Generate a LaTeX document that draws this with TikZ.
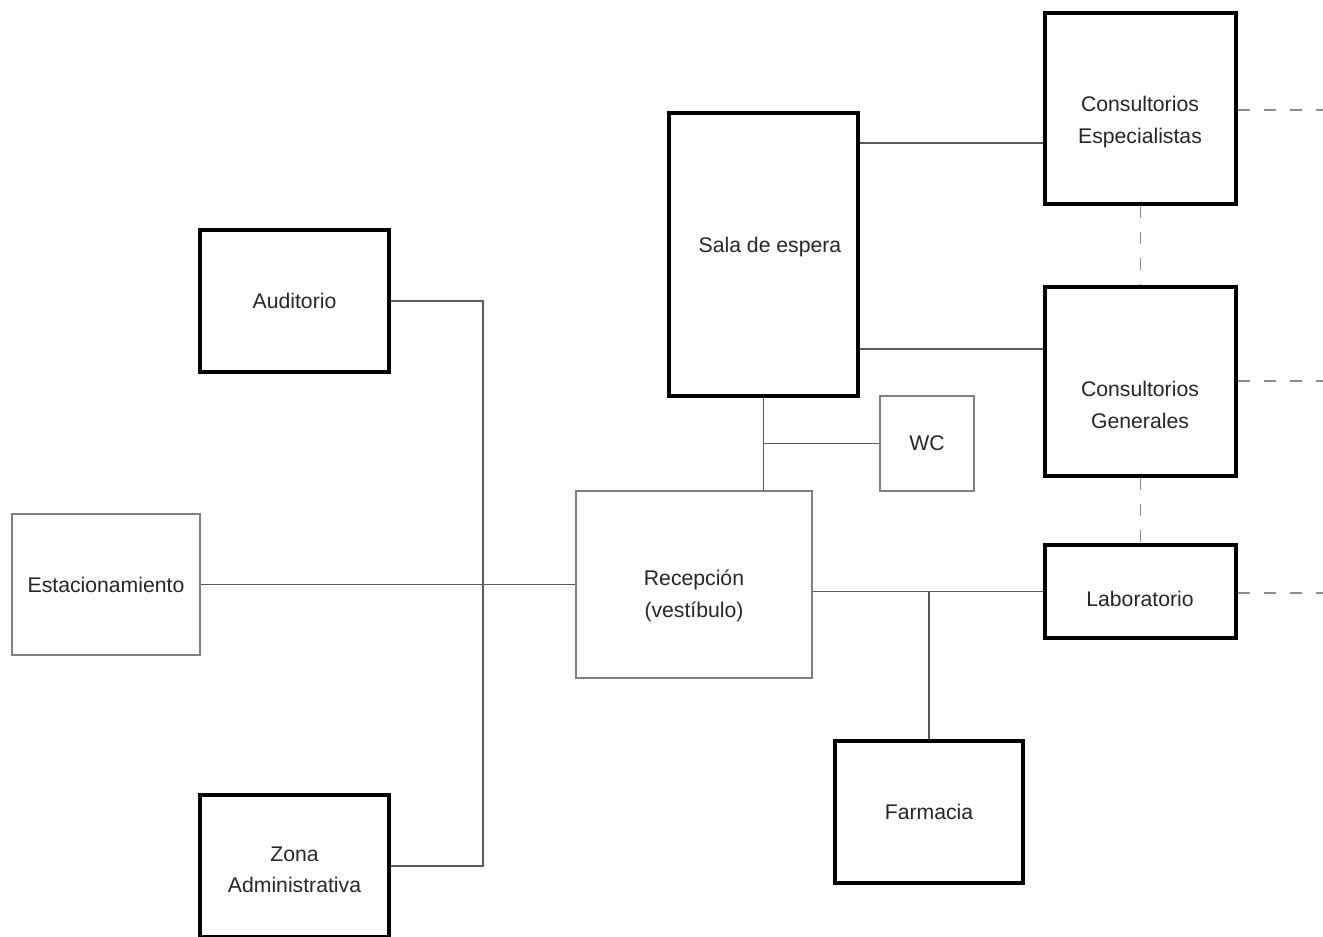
\documentclass[tikz,border=0pt]{standalone}
\usepackage{fontspec}
\setmainfont{Liberation Sans}
\begin{document}
\begin{tikzpicture}[x=0.5pt,y=-0.5pt,
  every node/.style={font=\fontsize{10.6}{15.7}\selectfont, text=black!85, align=center},
  thickbox/.style={draw=black, line width=2pt, inner sep=0pt},
  thinbox/.style={draw=black!50, line width=1.1pt, inner sep=0pt},
  conn/.style={draw=black!65, line width=0.8pt},
  dconn/.style={draw=black!45, line width=0.8pt, dash pattern=on 6pt off 7pt}]
\useasboundingbox (0,0) rectangle (1323,937);
\fill[white] (0,0) rectangle (1323,937);
% nodes
\node[thickbox, minimum width=94.5pt, minimum height=71pt] (aud) at (294.5,301) {Auditorio};
\node[thinbox, minimum width=94pt, minimum height=70.5pt] (est) at (106,584.5) {Estacionamiento};
\node[thickbox, minimum width=94.5pt, minimum height=71pt] (zona) at (294.5,866) {};
\node (zonatxt) at (294.5,870) {Zona\\Administrativa};
\node[thinbox, minimum width=118pt, minimum height=93.5pt] (rec) at (694,584.5) {};
\node (rectxt) at (694,596) {Recepción\\(vestíbulo)};
\node[thickbox, minimum width=94.5pt, minimum height=141.5pt] (sala) at (763.5,254.5) {};
\node (salatxt) at (770,247) {Sala de espera};
\node[thinbox, minimum width=47pt, minimum height=47.5pt] (wc) at (927,443.5) {WC};
\node[thickbox, minimum width=95.5pt, minimum height=95.5pt] (esp) at (1140.5,108.5) {};
\node (esptxt) at (1140,122) {Consultorios\\Especialistas};
\node[thickbox, minimum width=95.5pt, minimum height=94.5pt] (gen) at (1140.5,381.5) {};
\node (gentxt) at (1140,405) {Consultorios\\Generales};
\node[thickbox, minimum width=95.5pt, minimum height=46.5pt] (lab) at (1140.5,591.5) {};
\node (labtxt) at (1140,599) {Laboratorio};
\node[thickbox, minimum width=94pt, minimum height=71pt] (far) at (929,812) {Farmacia};
% free ends
\coordinate (j1) at (483,301);
\coordinate (e1) at (1323,110);
\coordinate (e2) at (1323,381);
\coordinate (e3) at (1323,593);
% connectors
\draw[conn] (aud.east) -- (j1) |- (zona.east);
\draw[conn] (est) -- (rec);
\draw[conn] (sala.south) -- (sala.south |- rec.north);
\draw[conn] (sala.south |- wc.west) -- (wc.west);
\draw[conn] (rec.east |- lab.west) -- (lab.west);
\draw[conn] (far.north) -- (far.north |- lab.west);
\draw[conn] (sala.east |- 0,143) -- (esp.west |- 0,143);
\draw[conn] (sala.east |- 0,349) -- (gen.west |- 0,349);
\draw[dconn] (esp.south) -- (gen.north);
\draw[dconn] (gen.south) -- (lab.north);
\draw[dconn] (esp.east |- e1) -- (e1);
\draw[dconn] (gen.east |- e2) -- (e2);
\draw[dconn] (lab.east |- e3) -- (e3);
\end{tikzpicture}
\end{document}
